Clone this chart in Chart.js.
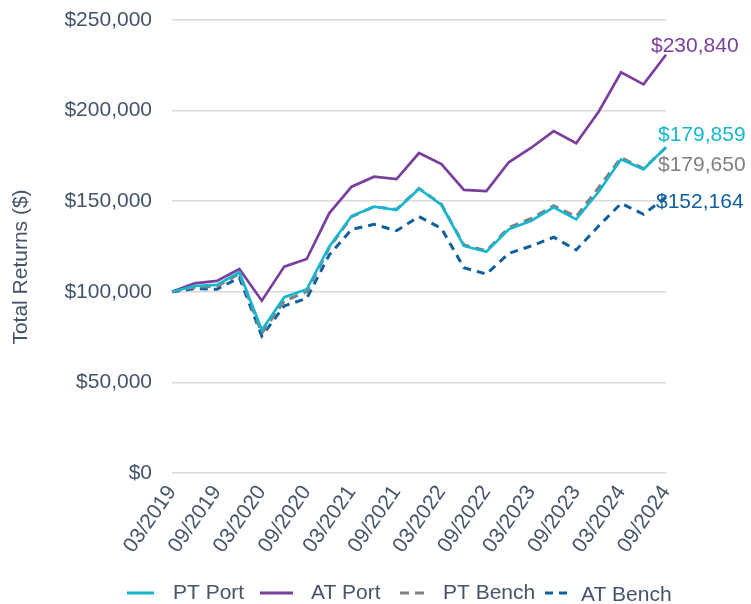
<!DOCTYPE html>
<html>
<head>
<meta charset="utf-8">
<title>Total Returns</title>
<script src="https://cdn.jsdelivr.net/npm/chart.js@4.4.1/dist/chart.umd.min.js"></script>
<style>
    html, body { margin: 0; padding: 0; background: #fff; }
    #wrap { width: 751px; height: 604px; position: relative; }
</style>
</head>
<body>
<div id="wrap"><canvas id="returnsChart"></canvas></div>
<script>
// Quarter-end dates (only every other one gets a label on the axis)
const quarters = [
    '03/2019', '06/2019', '09/2019', '12/2019',
    '03/2020', '06/2020', '09/2020', '12/2020',
    '03/2021', '06/2021', '09/2021', '12/2021',
    '03/2022', '06/2022', '09/2022', '12/2022',
    '03/2023', '06/2023', '09/2023', '12/2023',
    '03/2024', '06/2024', '09/2024'
];

// Growth of $100,000
const ptPort  = [100000, 103200, 103800, 110800, 78900, 97000, 101400, 124900, 141800, 147000, 145100, 156900,
                 147900, 125300, 122100, 134500, 139200, 146600, 140000, 155200, 173100, 167600, 179859];
const atPort  = [100000, 104700, 106000, 112600, 95100, 113900, 118100, 143300, 158000, 163500, 162200, 176600,
                 170500, 156200, 155600, 171500, 179500, 188700, 182000, 199400, 221100, 214500, 230840];
const ptBench = [100000, 102500, 103000, 110000, 77100, 95000, 100000, 124300, 141500, 147000, 145500, 157000,
                 148300, 125800, 122600, 135500, 140500, 147500, 141500, 157500, 174000, 168000, 179650];
const atBench = [100000, 101700, 101400, 107800, 75600, 92200, 96400, 120300, 134500, 137200, 133700, 141500,
                 135000, 113300, 109800, 121200, 125300, 130100, 123100, 136300, 148800, 142800, 152164];

const yMin = 0;
const yMax = 250000;
const yStep = 50000;

const seriesNames = ['PT Port', 'AT Port', 'PT Bench', 'AT Bench'];
const yTitle = 'Total Returns ($)';

const FONT = '"Liberation Sans", Arial, sans-serif';
const FONT_SIZE = 21;
const TEXT = '#44546A';
const colors = {
    ptPort: '#17B6CF',
    atPort: '#7A3E9D',
    ptBench: '#808080',
    atBench: '#10609F'
};

function fmtMoney(v) {
    return '$' + v.toLocaleString('en-US');
}

// value labels next to the last point of each line
const endLabelOffsets = [
    { dx: -8,  dy: -12 },  // PT Port
    { dx: -15, dy: -9 },   // AT Port
    { dx: -8,  dy: 18 },   // PT Bench
    { dx: -10, dy: 5 }     // AT Bench
];

const endLabels = {
    id: 'endLabels',
    afterDatasetsDraw(chart) {
        const ctx = chart.ctx;
        ctx.save();
        ctx.font = FONT_SIZE + 'px ' + FONT;
        ctx.textAlign = 'left';
        ctx.textBaseline = 'middle';
        chart.data.datasets.forEach((ds, i) => {
            const meta = chart.getDatasetMeta(i);
            const last = meta.data[meta.data.length - 1];
            const off = endLabelOffsets[i];
            ctx.fillStyle = ds.borderColor;
            ctx.fillText(fmtMoney(ds.data[ds.data.length - 1]), last.x + off.dx, last.y + off.dy);
        });
        ctx.restore();
    }
};

// y-axis title sits a bit below the middle of the plot in the original
const axisTitle = {
    id: 'axisTitle',
    afterDraw(chart) {
        const ctx = chart.ctx;
        ctx.save();
        ctx.translate(21, 267);
        ctx.rotate(-Math.PI / 2);
        ctx.font = FONT_SIZE + 'px ' + FONT;
        ctx.fillStyle = TEXT;
        ctx.textAlign = 'center';
        ctx.textBaseline = 'middle';
        ctx.fillText(yTitle, 0, 0);
        ctx.restore();
    }
};

// legend drawn by hand so it can sit under the plot like the original
const legendSlots = [
    { line: 127, len: 27, text: 173 },
    { line: 260, len: 33, text: 311 },
    { line: 400, len: 28, text: 443 },
    { line: 545, len: 26, text: 581 }
];

const bottomLegend = {
    id: 'bottomLegend',
    afterDraw(chart) {
        const ctx = chart.ctx;
        const y = 593;
        ctx.save();
        ctx.font = FONT_SIZE + 'px ' + FONT;
        ctx.textBaseline = 'middle';
        ctx.textAlign = 'left';
        chart.data.datasets.forEach((ds, i) => {
            const slot = legendSlots[i];
            ctx.beginPath();
            ctx.setLineDash(ds.borderDash || []);
            ctx.strokeStyle = ds.borderColor;
            ctx.lineWidth = 3;
            ctx.moveTo(slot.line, y);
            ctx.lineTo(slot.line + slot.len, y);
            ctx.stroke();
            ctx.setLineDash([]);
            ctx.fillStyle = TEXT;
            ctx.fillText(ds.label, slot.text, i === 3 ? y + 2 : y);
        });
        ctx.restore();
    }
};

const ctx = document.getElementById('returnsChart').getContext('2d');

new Chart(ctx, {
    type: 'line',
    data: {
        labels: quarters,
        datasets: [
            {
                label: seriesNames[0],
                data: ptPort,
                borderColor: colors.ptPort,
                borderWidth: 2.7
            },
            {
                label: seriesNames[1],
                data: atPort,
                borderColor: colors.atPort,
                borderWidth: 2.7
            },
            {
                label: seriesNames[2],
                data: ptBench,
                borderColor: colors.ptBench,
                borderWidth: 3,
                borderDash: [9, 6]
            },
            {
                label: seriesNames[3],
                data: atBench,
                borderColor: colors.atBench,
                borderWidth: 3,
                borderDash: [8, 6]
            }
        ]
    },
    options: {
        responsive: true,
        maintainAspectRatio: false,
        animation: false,
        elements: {
            point: { radius: 0 },
            line: { tension: 0, fill: false }
        },
        layout: {
            padding: { top: 20, right: 85, bottom: 40, left: 0 }
        },
        plugins: {
            legend: { display: false },
            tooltip: { enabled: false }
        },
        scales: {
            x: {
                offset: false,
                grid: { display: false, drawTicks: false },
                border: { display: false },
                ticks: {
                    autoSkip: false,
                    minRotation: 55,
                    maxRotation: 55,
                    padding: 8,
                    color: TEXT,
                    font: { family: FONT, size: FONT_SIZE },
                    callback: (val, i) => (i % 2 === 0 ? quarters[i] : '')
                },
                afterFit(scale) {
                    scale.height = 91;
                }
            },
            y: {
                min: yMin,
                max: yMax,
                grid: {
                    color: '#D9D9D9',
                    lineWidth: 1.5,
                    drawTicks: true,
                    tickLength: 18,
                    tickColor: 'rgba(0,0,0,0)'
                },
                border: { display: false },
                ticks: {
                    stepSize: yStep,
                    padding: 2,
                    color: TEXT,
                    font: { family: FONT, size: FONT_SIZE },
                    callback: v => fmtMoney(v)
                },
                afterFit(scale) {
                    scale.width = 172;
                }
            }
        }
    },
    plugins: [endLabels, axisTitle, bottomLegend]
});
</script>
</body>
</html>
